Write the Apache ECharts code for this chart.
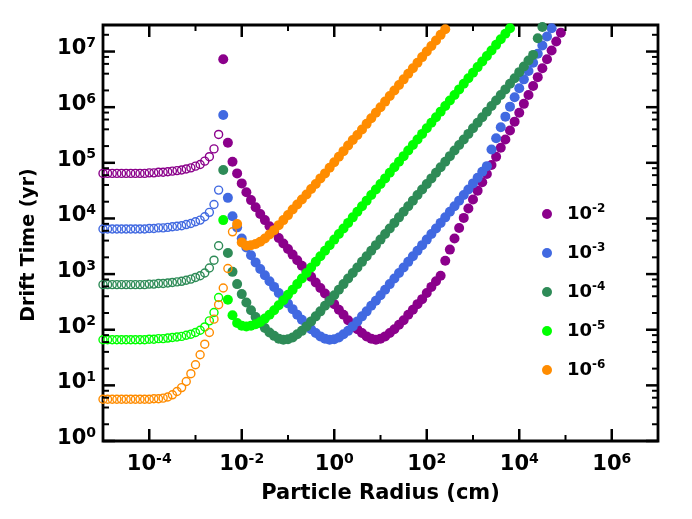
<!DOCTYPE html>
<html><head><meta charset="utf-8">
<script src="https://cdn.jsdelivr.net/npm/echarts@6/dist/echarts.min.js"></script>
<style>html,body{margin:0;padding:0;background:#fff}#c{width:692px;height:519px}</style>
</head><body><div id="c"></div>
<script>
// shared sampling grid: log10 of particle radius (cm)
const radiusExp = [
 -5.0,-4.9,-4.8,-4.7,-4.6,-4.5,-4.4,-4.3,-4.2,-4.1,
 -4.0,-3.9,-3.8,-3.7,-3.6,-3.5,-3.4,-3.3,-3.2,-3.1,
 -3.0,-2.9,-2.8,-2.7,-2.6,-2.5,-2.4,-2.3,-2.2,-2.1,
 -2.0,-1.9,-1.8,-1.7,-1.6,-1.5,-1.4,-1.3,-1.2,-1.1,
 -1.0,-0.9,-0.8,-0.7,-0.6,-0.5,-0.4,-0.3,-0.2,-0.1,
 0.0,0.1,0.2,0.3,0.4,0.5,0.6,0.7,0.8,0.9,
 1.0,1.1,1.2,1.3,1.4,1.5,1.6,1.7,1.8,1.9,
 2.0,2.1,2.2,2.3,2.4,2.5,2.6,2.7,2.8,2.9,
 3.0,3.1,3.2,3.3,3.4,3.5,3.6,3.7,3.8,3.9,
 4.0,4.1,4.2,4.3,4.4,4.5,4.6,4.7,4.8,4.9,
 5.0];

// series names (legend) and colours
const seriesExps = ['-2','-3','-4','-5','-6'];
const seriesNames = ['10^-2','10^-3','10^-4','10^-5','10^-6'];
const seriesColors = ['#8B008B','#4169E1','#2E8B57','#00FF00','#FF8C00'];

// log10 drift time (yr); open = small-particle branch, filled = large-particle branch
const openStart = [0,0,0,0,0];
const filledStart = [26,26,26,26,29];

const purpleOpen = [4.81,4.81,4.81,4.81,4.81,4.81,4.81,4.81,4.81,4.81,
 4.82,4.82,4.83,4.83,4.84,4.85,4.86,4.87,4.89,4.91,4.94,4.97,5.03,5.11,5.25,5.51];
const blueOpen = [3.81,3.81,3.81,3.81,3.81,3.81,3.81,3.81,3.81,3.81,
 3.82,3.82,3.83,3.83,3.84,3.85,3.86,3.87,3.89,3.91,3.94,3.97,4.03,4.11,4.25,4.51];
const dgreenOpen = [2.81,2.81,2.81,2.81,2.81,2.81,2.81,2.81,2.81,2.81,
 2.82,2.82,2.83,2.83,2.84,2.85,2.86,2.87,2.89,2.91,2.94,2.97,3.02,3.11,3.25,3.51];
const greenOpen = [1.82,1.82,1.82,1.82,1.82,1.82,1.82,1.82,1.82,1.82,
 1.83,1.83,1.84,1.84,1.85,1.86,1.87,1.88,1.90,1.92,1.95,1.99,2.05,2.16,2.31,2.58];
const orangeOpen = [0.75,0.75,0.75,0.75,0.75,0.75,0.75,0.75,0.75,0.75,0.75,
 0.76,0.76,0.77,0.79,0.83,0.89,0.96,1.07,1.21,1.37,1.55,1.74,1.95,2.19,2.45,2.75,3.10,3.76];

const purpleFilled = [6.86,5.36,5.02,4.81,4.63,4.47,4.33,4.20,4.08,3.97,
 3.86,3.76,3.65,3.55,3.45,3.35,3.25,3.15,3.05,2.95,
 2.85,2.75,2.65,2.55,
 2.46,2.36,2.27,2.17,2.09,2.01,1.94,1.88,1.84,1.82,
 1.84,1.88,1.94,2.01,2.09,2.17,2.27,2.36,2.46,2.55,
 2.66,2.77,2.87,2.97,3.24,3.44,3.64,3.83,4.01,4.18,
 4.34,4.50,4.65,4.80,4.96,5.11,5.27,5.42,5.58,5.74,
 5.90,6.06,6.22,6.38,6.54,6.70,6.86,7.02,7.18,7.34];
const blueFilled = [5.86,4.37,4.04,3.84,3.64,3.48,3.34,3.21,3.09,2.98,
 2.87,2.77,2.66,2.56,2.47,2.37,2.27,2.18,2.09,2.01,
 1.94,1.88,1.84,1.82,
 1.83,1.86,1.92,1.98,2.06,2.15,2.24,2.33,2.43,2.52,
 2.62,2.72,2.82,2.92,3.02,3.12,3.22,3.32,3.42,3.52,
 3.62,3.72,3.82,3.92,4.02,4.12,4.22,4.32,4.42,4.52,
 4.63,4.73,4.84,4.94,5.24,5.44,5.64,5.83,6.01,6.18,
 6.34,6.50,6.65,6.80,6.96,7.11,7.27,7.42];
const dgreenFilled = [4.87,3.38,3.04,2.82,2.64,2.49,2.35,2.23,2.12,2.03,
 1.95,1.89,1.84,1.82,1.83,1.86,1.92,1.98,2.06,2.15,
 2.24,2.33,2.43,2.52,
 2.62,2.72,2.82,2.92,3.02,3.12,3.22,3.32,3.42,3.52,
 3.62,3.72,3.82,3.92,4.02,4.12,4.22,4.32,4.42,4.52,
 4.62,4.72,4.82,4.92,5.02,5.12,5.22,5.32,5.42,5.52,
 5.62,5.72,5.82,5.92,6.02,6.12,6.22,6.32,6.42,6.52,
 6.63,6.73,6.84,6.94,7.24,7.44];
const greenFilled = [3.97,2.54,2.26,2.12,2.07,2.06,2.07,2.10,2.14,2.20,
 2.27,2.35,2.44,2.53,2.63,2.72,2.82,2.92,3.02,3.12,
 3.22,3.32,3.42,3.52,
 3.62,3.72,3.82,3.92,4.02,4.12,4.22,4.32,4.42,4.52,
 4.62,4.72,4.82,4.92,5.02,5.12,5.22,5.32,5.42,5.52,
 5.62,5.72,5.82,5.92,6.02,6.12,6.22,6.32,6.42,6.52,
 6.62,6.72,6.82,6.92,7.02,7.12,7.22,7.32,7.42];
const orangeFilled = [3.90,3.57,3.51,3.52,3.54,3.58,3.64,3.71,3.79,3.88,
 3.97,4.06,4.16,4.25,4.34,4.43,4.53,4.62,4.72,4.81,
 4.91,
 5.01,5.11,5.21,5.31,5.41,5.50,5.60,5.70,5.80,5.90,
 6.00,6.10,6.20,6.30,6.40,6.50,6.60,6.70,6.80,6.90,
 7.00,7.10,7.20,7.30,7.40];

const openSets = [purpleOpen, blueOpen, dgreenOpen, greenOpen, orangeOpen];
const filledSets = [purpleFilled, blueFilled, dgreenFilled, greenFilled, orangeFilled];

// axes
const X_MIN = 1e-5, X_MAX = 1e7, Y_MIN = 1, Y_MAX = 3e7;
const xTickExps = [-4,-2,0,2,4,6];
const xTickLabels = ['-4','-2','0','2','4','6'];
const xMinorTickExps = [-3,-1,1,3,5];
const yTickExps = [0,1,2,3,4,5,6,7];
const yTickLabels = ['0','1','2','3','4','5','6','7'];
const yMinorMultipliers = [2,4,6,8];

const FONT = 'DejaVu Sans';
const MAJOR_LEN = 12, MINOR_LEN = 6, MAJOR_W = 2.5, MINOR_W = 2;

function toPoints(start, logT) {
  return logT.map((v, i) => [Math.pow(10, radiusExp[start + i]), Math.pow(10, v)]);
}
function expLabel(value, exps, labels) {
  const e = Math.log10(value);
  for (let i = 0; i < exps.length; i++) {
    if (Math.abs(e - exps[i]) < 1e-6) return '{b|10}{s|' + labels[i] + '}';
  }
  return '';
}
const richLabel = {
  b: {fontFamily: FONT, fontWeight: 'bold', fontSize: 21, color: '#000', lineHeight: 25},
  s: {fontFamily: FONT, fontWeight: 'bold', fontSize: 14, color: '#000', lineHeight: 13, verticalAlign: 'top'}
};

// tick marks (all four sides)
const tickData = [];
xTickExps.forEach(e => {
  tickData.push([Math.pow(10, e), Y_MIN, 0, MAJOR_LEN, MAJOR_W]);
  tickData.push([Math.pow(10, e), Y_MAX, 1, MAJOR_LEN, MAJOR_W]);
});
xMinorTickExps.forEach(e => {
  tickData.push([Math.pow(10, e), Y_MIN, 0, MINOR_LEN, MINOR_W]);
  tickData.push([Math.pow(10, e), Y_MAX, 1, MINOR_LEN, MINOR_W]);
});
yTickExps.forEach(e => {
  tickData.push([X_MIN, Math.pow(10, e), 2, MAJOR_LEN, MAJOR_W]);
  tickData.push([X_MAX, Math.pow(10, e), 3, MAJOR_LEN, MAJOR_W]);
  yMinorMultipliers.forEach(m => {
    const v = m * Math.pow(10, e);
    if (v < Y_MAX) {
      tickData.push([X_MIN, v, 2, MINOR_LEN, MINOR_W]);
      tickData.push([X_MAX, v, 3, MINOR_LEN, MINOR_W]);
    }
  });
});

const series = [];
filledSets.forEach((d, k) => {
  series.push({
    name: seriesNames[k], type: 'scatter', symbol: 'circle', symbolSize: 10,
    data: toPoints(filledStart[k], d),
    itemStyle: {color: seriesColors[k], opacity: 1},
    emphasis: {disabled: true}
  });
});
openSets.forEach((d, k) => {
  series.push({
    name: 'open ' + seriesNames[k], type: 'scatter', symbol: 'circle', symbolSize: 8,
    data: toPoints(openStart[k], d),
    itemStyle: {color: 'rgba(255,255,255,0)', borderColor: seriesColors[k], borderWidth: 1.4, opacity: 1},
    emphasis: {disabled: true}
  });
});
series.push({
  type: 'custom', silent: true, z: 5, clip: false,
  data: tickData,
  renderItem: function (params, api) {
    const p = api.coord([api.value(0), api.value(1)]);
    const side = api.value(2), len = api.value(3);
    let x2 = p[0], y2 = p[1];
    if (side === 0) y2 -= len; else if (side === 1) y2 += len;
    else if (side === 2) x2 += len; else x2 -= len;
    return {type: 'line', shape: {x1: p[0], y1: p[1], x2: x2, y2: y2},
            style: {stroke: '#000', lineWidth: api.value(4)}};
  }
});

const chart = echarts.init(document.getElementById('c'), null, {renderer: 'canvas'});
chart.setOption({
  animation: false,
  backgroundColor: '#fff',
  grid: {left: 103, right: 34, top: 25, bottom: 78, show: true, borderColor: '#000', borderWidth: 2.8, backgroundColor: 'transparent'},
  legend: {
    orient: 'vertical', left: 537, top: 198, itemWidth: 30, itemHeight: 10, itemGap: 19,
    icon: 'circle', data: seriesNames,
    formatter: name => '{b|10}{s|' + seriesExps[seriesNames.indexOf(name)] + '}',
    textStyle: {rich: {
      b: {fontFamily: FONT, fontWeight: 'bold', fontSize: 18, color: '#000', lineHeight: 22},
      s: {fontFamily: FONT, fontWeight: 'bold', fontSize: 12, color: '#000', lineHeight: 11, verticalAlign: 'top'}
    }}
  },
  xAxis: {
    type: 'log', logBase: 100, min: X_MIN, max: X_MAX,
    name: 'Particle Radius (cm)', nameLocation: 'middle', nameGap: 42,
    nameTextStyle: {fontFamily: FONT, fontWeight: 'bold', fontSize: 21, color: '#000'},
    axisLine: {show: false}, axisTick: {show: false}, splitLine: {show: false}, minorTick: {show: false},
    axisLabel: {margin: 11, showMinLabel: false, showMaxLabel: false,
      formatter: v => expLabel(v, xTickExps, xTickLabels), rich: richLabel}
  },
  yAxis: {
    type: 'log', min: Y_MIN, max: Y_MAX,
    name: 'Drift Time (yr)', nameLocation: 'middle', nameGap: 64,
    nameTextStyle: {fontFamily: FONT, fontWeight: 'bold', fontSize: 19, color: '#000', padding: [0, 24, 0, 0]},
    axisLine: {show: false}, axisTick: {show: false}, splitLine: {show: false}, minorTick: {show: false},
    axisLabel: {margin: 7, showMaxLabel: false, padding: [0, 0, 5, 0],
      formatter: v => expLabel(v, yTickExps, yTickLabels), rich: richLabel}
  },
  series: series
});
</script></body></html>
